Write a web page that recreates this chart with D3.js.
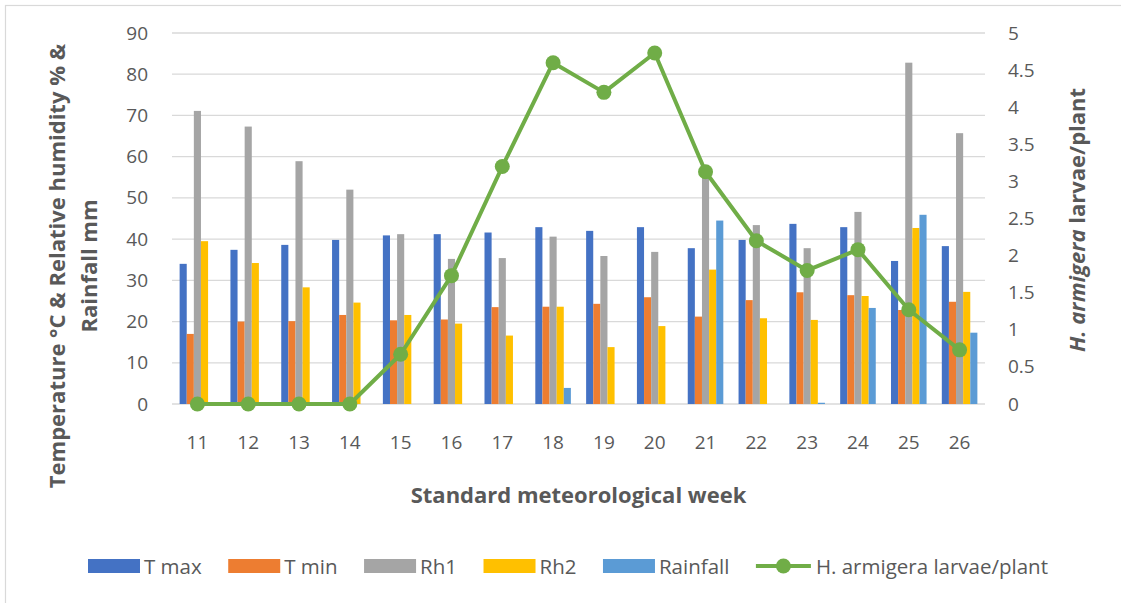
<!DOCTYPE html>
<html>
<head>
<meta charset="utf-8">
<script src="https://cdn.jsdelivr.net/npm/d3@7"></script>
<style>
  body { margin: 0; background: #fff; }
  svg text { font-family: "Open Sans", sans-serif; fill: #595959; }
</style>
</head>
<body>
<div id="chart-area"></div>
<script>
// Data
var weeks = ["11","12","13","14","15","16","17","18","19","20","21","22","23","24","25","26"];
var tmax     = [34.0, 37.4, 38.6, 39.8, 40.9, 41.2, 41.6, 42.9, 42.0, 42.9, 37.8, 39.8, 43.7, 42.9, 34.7, 38.3];
var tmin     = [17.0, 20.0, 20.1, 21.6, 20.3, 20.5, 23.5, 23.6, 24.3, 25.9, 21.2, 25.2, 27.1, 26.4, 22.8, 24.8];
var rh1      = [71.1, 67.3, 58.9, 52.0, 41.2, 35.2, 35.4, 40.6, 35.9, 36.9, 55.5, 43.4, 37.8, 46.6, 82.8, 65.7];
var rh2      = [39.5, 34.2, 28.3, 24.6, 21.6, 19.5, 16.6, 23.6, 13.8, 18.9, 32.6, 20.8, 20.4, 26.2, 42.7, 27.2];
var rainfall = [0, 0, 0, 0, 0, 0, 0, 3.9, 0, 0, 44.5, 0, 0.3, 23.3, 45.9, 17.3];
var larvae   = [0, 0, 0, 0, 0.67, 1.73, 3.2, 4.6, 4.2, 4.73, 3.13, 2.2, 1.8, 2.08, 1.27, 0.73];

var seriesNames = ["T max", "T min", "Rh1", "Rh2", "Rainfall"];
var seriesValues = [tmax, tmin, rh1, rh2, rainfall];
var seriesColors = ["#4472C4", "#ED7D31", "#A5A5A5", "#FFC000", "#5B9BD5"];
var lineName = "H. armigera larvae/plant";
var lineColor = "#70AD47";

var leftTicks = [0, 10, 20, 30, 40, 50, 60, 70, 80, 90];
var rightTicks = [0, 0.5, 1, 1.5, 2, 2.5, 3, 3.5, 4, 4.5, 5];

var W = 1121, H = 603;
var plot = {left: 172, right: 985, top: 33, bottom: 404};

var svg = d3.select("#chart-area")
    .append("svg")
    .attr("width", W)
    .attr("height", H);

// chart frame
svg.append("rect")
    .attr("x", 5.5).attr("y", 5.5)
    .attr("width", W + 20).attr("height", H + 20)
    .attr("fill", "#fff")
    .attr("stroke", "#d9d9d9")
    .attr("stroke-width", 1.2);

// Scales
var x0 = d3.scaleBand()
    .domain(weeks)
    .range([plot.left, plot.right])
    .paddingInner(0.3)
    .paddingOuter(0.15);

var x1 = d3.scaleBand()
    .domain(seriesNames)
    .range([0, x0.bandwidth()]);

var yL = d3.scaleLinear().domain([0, 90]).range([plot.bottom, plot.top]);
var yR = d3.scaleLinear().domain([0, 5]).range([plot.bottom, plot.top]);

var color = d3.scaleOrdinal().domain(seriesNames).range(seriesColors);

// Gridlines
svg.append("g")
    .selectAll("line")
    .data(leftTicks)
    .enter()
    .append("line")
    .attr("x1", plot.left).attr("x2", plot.right)
    .attr("y1", d => yL(d)).attr("y2", d => yL(d))
    .attr("stroke", "#d9d9d9")
    .attr("stroke-width", 1.3);

// Left axis
var leftAxis = d3.axisLeft(yL).tickValues(leftTicks).tickSize(0).tickPadding(0);
svg.append("g")
    .attr("transform", "translate(148, 0)")
    .call(leftAxis)
    .call(g => g.select(".domain").remove())
    .selectAll("text")
    .attr("font-size", "19px")
    .style("fill", "#595959");

// Right axis
var rightAxis = d3.axisRight(yR).tickValues(rightTicks).tickSize(0).tickPadding(0).tickFormat(d => d);
svg.append("g")
    .attr("transform", "translate(1008, 0)")
    .call(rightAxis)
    .call(g => g.select(".domain").remove())
    .selectAll("text")
    .attr("font-size", "19px")
    .style("fill", "#595959");

// Bottom axis
var bottomAxis = d3.axisBottom(x0).tickSize(0).tickPadding(0);
svg.append("g")
    .attr("transform", "translate(0, 435)")
    .call(bottomAxis)
    .call(g => g.select(".domain").remove())
    .selectAll("text")
    .attr("font-size", "19px")
    .style("fill", "#595959");

// Bars
var groups = svg.append("g")
    .selectAll("g")
    .data(weeks)
    .enter()
    .append("g")
    .attr("transform", d => "translate(" + x0(d) + ",0)");

groups.selectAll("rect")
    .data((w, i) => seriesNames.map((s, j) => ({name: s, value: seriesValues[j][i]})))
    .enter()
    .append("rect")
    .attr("x", d => x1(d.name))
    .attr("y", d => yL(d.value))
    .attr("width", x1.bandwidth())
    .attr("height", d => plot.bottom - yL(d.value))
    .attr("fill", d => color(d.name));

// Line + markers
var line = d3.line()
    .x((d, i) => x0(weeks[i]) + x0.bandwidth() / 2)
    .y(d => yR(d));

svg.append("path")
    .datum(larvae)
    .attr("d", line)
    .attr("fill", "none")
    .attr("stroke", lineColor)
    .attr("stroke-width", 4)
    .attr("stroke-linejoin", "round");

svg.append("g")
    .selectAll("circle")
    .data(larvae)
    .enter()
    .append("circle")
    .attr("cx", (d, i) => x0(weeks[i]) + x0.bandwidth() / 2)
    .attr("cy", d => yR(d))
    .attr("r", 7.5)
    .attr("fill", lineColor);

// Axis titles
var leftTitle = svg.append("text")
    .attr("transform", "translate(0, 266) rotate(-90)")
    .attr("text-anchor", "middle")
    .attr("font-size", "22px")
    .attr("font-weight", "bold");
leftTitle.append("tspan").attr("x", 0).attr("y", 65).text("Temperature °C & Relative humidity % &");
leftTitle.append("tspan").attr("x", 0).attr("y", 97).text("Rainfall mm");

var rightTitle = svg.append("text")
    .attr("transform", "translate(1085, 220) rotate(-90)")
    .attr("text-anchor", "middle")
    .attr("font-size", "22px")
    .attr("font-weight", "bold");
rightTitle.append("tspan").attr("font-style", "italic").text("H. armigera");
rightTitle.append("tspan").text(" larvae/plant");

svg.append("text")
    .attr("x", (plot.left + plot.right) / 2)
    .attr("y", 503)
    .attr("text-anchor", "middle")
    .attr("font-size", "22px")
    .attr("font-weight", "bold")
    .text("Standard meteorological week");

// Legend
var legend = svg.append("g").attr("transform", "translate(88, 566)");
var lx = 0;
seriesNames.forEach((s, j) => {
    legend.append("rect")
        .attr("x", lx).attr("y", -7)
        .attr("width", 52).attr("height", 14)
        .attr("fill", seriesColors[j]);
    var t = legend.append("text")
        .attr("x", lx + 56).attr("y", 7.5)
        .attr("font-size", "20.5px")
        .text(s);
    lx += 56 + t.node().getComputedTextLength() + 26.5;
});
legend.append("line")
    .attr("x1", lx).attr("x2", lx + 55)
    .attr("y1", 0).attr("y2", 0)
    .attr("stroke", lineColor).attr("stroke-width", 4);
legend.append("circle")
    .attr("cx", lx + 27.5).attr("cy", 0).attr("r", 7.5)
    .attr("fill", lineColor);
legend.append("text")
    .attr("x", lx + 60).attr("y", 7.5)
    .attr("font-size", "20.5px")
    .text(lineName);
</script>
</body>
</html>
